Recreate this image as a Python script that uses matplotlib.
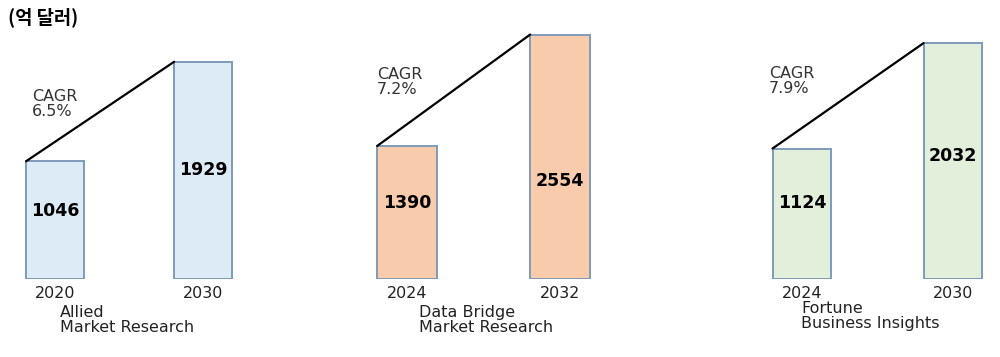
import matplotlib.pyplot as plt

plt.rcParams['font.family'] = ['DejaVu Sans']

# market size forecasts (100 million USD)
sources = ["Allied\nMarket Research", "Data Bridge\nMarket Research", "Fortune\nBusiness Insights"]
years = [["2020", "2030"], ["2024", "2032"], ["2024", "2030"]]
values = [[1046, 1929], [1390, 2554], [1124, 2032]]
cagr = ["6.5%", "7.2%", "7.9%"]
fills = ["#DDEBF7", "#F8CBAD", "#E2EFDA"]
edge = "#7F9ABA"

W, H = 1000, 357


def px(x, y):
    return x / W, 1 - y / H


fig = plt.figure(figsize=(10, 3.57), dpi=100)

# layout per panel: first bar centre (px), bar spacing (px), y max, label height fractions
centres = [55, 407, 802]
spacing = [148, 153, 151]
ymax = [2300, 2706, 2231]
label_frac = [[0.58, 0.50], [0.57, 0.40], [0.58, 0.52]]
cagr_pos = [(32, 89), (377, 67), (769, 66)]
src_pos = [(60, 305), (419, 305), (801, 301)]

bottom_px, top_px = 279, 20
bw = 0.39

for i in range(3):
    left = centres[i] - 0.4 * spacing[i]
    width = 1.9 * spacing[i]
    x0, y0 = px(left, bottom_px)
    ax = fig.add_axes([x0, y0, width / W, (bottom_px - top_px) / H])
    ax.set_xlim(-0.4, 1.5)
    ax.set_ylim(0, ymax[i])

    ax.bar([0, 1], values[i], width=bw, color=fills[i], edgecolor=edge, linewidth=1.4)
    ax.plot([-bw / 2, 1 - bw / 2], values[i], color="black", linewidth=1.6,
            solid_capstyle="round")

    for j, v in enumerate(values[i]):
        ax.text(j, v * label_frac[i][j], str(v), ha="center", va="center",
                fontsize=12.5, fontweight="bold", color="black")

    ax.set_xticks([0, 1], years[i])
    ax.tick_params(axis="x", length=0, pad=5, labelsize=11.5, labelcolor="#222222")
    ax.set_yticks([])
    for s in ax.spines.values():
        s.set_visible(False)
    ax.patch.set_alpha(0)

    cx, cy = px(*cagr_pos[i])
    fig.text(cx, cy, "CAGR\n" + cagr[i], ha="left", va="top", fontsize=11.5,
             color="#333333", linespacing=1.0)
    sx, sy = px(*src_pos[i])
    fig.text(sx, sy, sources[i], ha="left", va="top", fontsize=11.5,
             color="#222222", linespacing=1.0)

tx, ty = px(8, 7)
fig.text(tx, ty, "(억 달러)", ha="left", va="top", fontsize=13.5, fontweight="bold",
         family=["Noto Sans CJK KR", "DejaVu Sans"])

fig.savefig("out.png", dpi=100)
